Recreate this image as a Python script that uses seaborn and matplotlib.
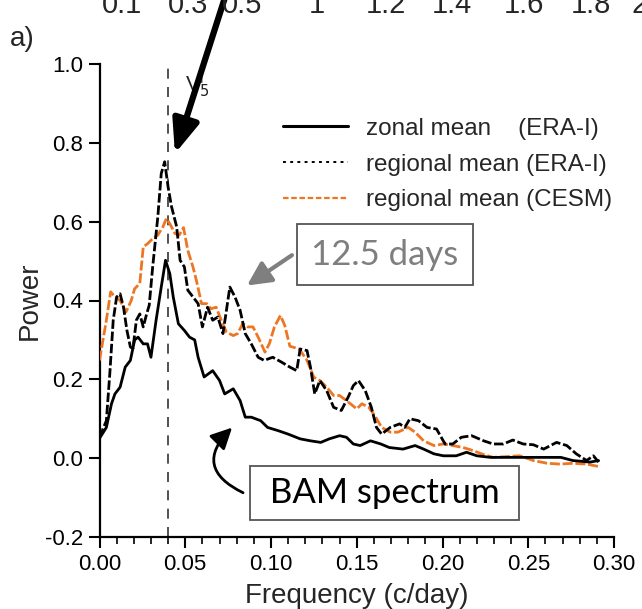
import matplotlib
matplotlib.use("Agg")
import matplotlib.pyplot as plt
import pandas as pd
import seaborn as sns
from matplotlib.lines import Line2D

# zonal mean (ERA-I), solid black
zonal_freq = [0.000, 0.004, 0.007, 0.009, 0.012, 0.015, 0.018, 0.0205, 0.0225, 0.0255,
              0.028, 0.030, 0.033, 0.036, 0.0385, 0.041, 0.043, 0.046, 0.0495, 0.0525,
              0.0555, 0.0575, 0.061, 0.066, 0.070, 0.073, 0.078, 0.082, 0.085, 0.0885,
              0.094, 0.098, 0.104, 0.110, 0.117, 0.123, 0.129, 0.134, 0.140, 0.144,
              0.148, 0.152, 0.158, 0.164, 0.169, 0.177, 0.184, 0.189, 0.195, 0.2005,
              0.208, 0.214, 0.220, 0.228, 0.237, 0.247, 0.259, 0.269, 0.276, 0.286, 0.291]
zonal_power = [0.05, 0.078, 0.138, 0.163, 0.18, 0.231, 0.248, 0.30, 0.307, 0.29,
               0.29, 0.256, 0.35, 0.434, 0.502, 0.468, 0.409, 0.341, 0.324, 0.307,
               0.30, 0.256, 0.206, 0.222, 0.197, 0.163, 0.176, 0.146, 0.104, 0.104,
               0.095, 0.078, 0.07, 0.061, 0.049, 0.044, 0.04, 0.049, 0.057, 0.053,
               0.036, 0.032, 0.044, 0.036, 0.027, 0.023, 0.032, 0.023, 0.011, 0.006,
               0.006, 0.015, 0.006, 0.002, 0.002, 0.002, 0.002, 0.002, -0.006, -0.01, -0.006]

# regional mean (ERA-I), black dashed
era_freq = [0.000, 0.004, 0.006, 0.008, 0.010, 0.012, 0.014, 0.016, 0.018, 0.0195,
            0.0215, 0.0235, 0.0255, 0.0275, 0.029, 0.031, 0.034, 0.036, 0.038, 0.040,
            0.042, 0.045, 0.047, 0.0495, 0.0515, 0.0545, 0.0575, 0.060, 0.063, 0.066,
            0.069, 0.072, 0.074, 0.076, 0.079, 0.082, 0.085, 0.0885, 0.0925, 0.096,
            0.101, 0.106, 0.111, 0.115, 0.117, 0.121, 0.123, 0.1255, 0.1285, 0.1325,
            0.1365, 0.141, 0.145, 0.148, 0.151, 0.155, 0.1585, 0.1615, 0.1645, 0.1695,
            0.175, 0.178, 0.181, 0.186, 0.191, 0.1965, 0.2015, 0.206, 0.211, 0.217,
            0.224, 0.2295, 0.2355, 0.241, 0.247, 0.253, 0.259, 0.2665, 0.2725, 0.278,
            0.284, 0.288, 0.291]
era_power = [0.053, 0.095, 0.214, 0.35, 0.409, 0.417, 0.383, 0.324, 0.282, 0.278,
             0.35, 0.366, 0.333, 0.366, 0.388, 0.485, 0.612, 0.722, 0.752, 0.688,
             0.638, 0.587, 0.502, 0.485, 0.426, 0.409, 0.392, 0.333, 0.383, 0.35,
             0.358, 0.316, 0.375, 0.434, 0.409, 0.375, 0.316, 0.29, 0.256, 0.248,
             0.256, 0.244, 0.231, 0.222, 0.277, 0.273, 0.231, 0.163, 0.197, 0.171,
             0.129, 0.121, 0.155, 0.184, 0.197, 0.171, 0.129, 0.078, 0.061, 0.078,
             0.087, 0.078, 0.10, 0.095, 0.078, 0.074, 0.036, 0.036, 0.053, 0.057,
             0.044, 0.036, 0.036, 0.046, 0.036, 0.034, 0.023, 0.04, 0.032, 0.011,
             -0.006, 0.006, -0.01]

# regional mean (CESM), orange dashed
cesm_freq = [0.000, 0.004, 0.0065, 0.009, 0.012, 0.0155, 0.0185, 0.0205, 0.0235, 0.0255,
             0.028, 0.031, 0.034, 0.037, 0.039, 0.041, 0.044, 0.0465, 0.049, 0.0515,
             0.0545, 0.0565, 0.0595, 0.0625, 0.065, 0.068, 0.071, 0.074, 0.078, 0.0805,
             0.0835, 0.0865, 0.0895, 0.0925, 0.0965, 0.099, 0.102, 0.1055, 0.108, 0.111,
             0.1165, 0.121, 0.125, 0.1285, 0.1325, 0.1365, 0.140, 0.144, 0.150, 0.153,
             0.157, 0.1605, 0.1645, 0.1695, 0.174, 0.180, 0.184, 0.189, 0.195, 0.2005,
             0.206, 0.212, 0.218, 0.224, 0.2295, 0.2375, 0.245, 0.253, 0.261, 0.2685,
             0.276, 0.284, 0.292]
cesm_power = [0.248, 0.35, 0.422, 0.409, 0.40, 0.371, 0.40, 0.43, 0.443, 0.536,
              0.544, 0.557, 0.566, 0.587, 0.608, 0.595, 0.57, 0.566, 0.585, 0.527,
              0.485, 0.451, 0.392, 0.392, 0.379, 0.383, 0.35, 0.32, 0.311, 0.316,
              0.341, 0.333, 0.333, 0.307, 0.269, 0.29, 0.333, 0.362, 0.337, 0.284,
              0.277, 0.248, 0.205, 0.197, 0.18, 0.159, 0.159, 0.146, 0.125, 0.138,
              0.129, 0.108, 0.078, 0.066, 0.066, 0.078, 0.066, 0.044, 0.032, 0.036,
              0.032, 0.027, 0.019, 0.009, 0.002, 0.004, 0.006, -0.006, -0.013, -0.015,
              -0.013, -0.015, -0.022]

legend_labels = ["zonal mean    (ERA-I)", "regional mean (ERA-I)", "regional mean (CESM)"]
top_labels = ["0.1", "0.3", "0.5", "1", "1.2", "1.4", "1.6", "1.8", "2"]
x_ticks = [0.00, 0.05, 0.10, 0.15, 0.20, 0.25, 0.30]
y_ticks = [-0.2, 0.0, 0.2, 0.4, 0.6, 0.8, 1.0]

ORANGE = "#EE7623"
GRAY = "#7F7F7F"
W, H = 642, 609


def main() -> None:
    sns.set_theme(style="ticks")
    plt.rcParams["font.family"] = ["Liberation Sans", "DejaVu Sans"]
    plt.rcParams["axes.unicode_minus"] = False

    fig = plt.figure(figsize=(W / 100, H / 100), dpi=100)
    ax = fig.add_axes([99.5 / W, 1 - 537 / H, 514.5 / W, 473 / H])

    zonal = pd.DataFrame({"freq": zonal_freq, "power": zonal_power})
    era = pd.DataFrame({"freq": era_freq, "power": era_power})
    cesm = pd.DataFrame({"freq": cesm_freq, "power": cesm_power})

    ax.axvline(0.04, color="#333333", lw=1.2, dashes=(6, 5), zorder=1)
    sns.lineplot(data=cesm, x="freq", y="power", ax=ax, color=ORANGE, lw=2.0,
                 estimator=None, zorder=3).lines[-1].set_dashes((3.6, 1.0))
    sns.lineplot(data=era, x="freq", y="power", ax=ax, color="black", lw=2.0,
                 estimator=None, zorder=4).lines[-1].set_dashes((3.4, 1.0))
    sns.lineplot(data=zonal, x="freq", y="power", ax=ax, color="black", lw=2.0,
                 estimator=None, zorder=5)

    ax.set_xlim(0, 0.30)
    ax.set_ylim(-0.2, 1.0)
    ax.set_xticks(x_ticks)
    ax.set_xticklabels([f"{t:.2f}" for t in x_ticks])
    ax.set_xticks([i / 100 for i in range(31)], minor=True)
    ax.set_yticks(y_ticks)
    ax.set_yticklabels([f"{t:.1f}" for t in y_ticks])
    ax.tick_params(axis="both", which="major", length=8, width=1.5, labelsize=16,
                   color="black", labelcolor="black", pad=4)
    ax.tick_params(axis="x", which="minor", length=5, width=1.2, color="black")
    sns.despine(ax=ax)
    for side in ("left", "bottom"):
        ax.spines[side].set_linewidth(1.6)
        ax.spines[side].set_color("black")
    ax.set_xlabel("Frequency (c/day)", fontsize=20, labelpad=6)
    ax.set_ylabel("Power", fontsize=20, labelpad=1)

    handles = [
        Line2D([], [], color="black", lw=2.2),
        Line2D([], [], color="black", lw=1.4, dashes=(1.5, 2.2)),
        Line2D([], [], color=ORANGE, lw=1.6, dashes=(2.5, 1.2)),
    ]
    ax.legend(handles, legend_labels, loc="upper left", bbox_to_anchor=(0.357, 0.886),
              frameon=False, fontsize=17.5, handlelength=2.65, handletextpad=0.75,
              labelspacing=0.56, borderpad=0, borderaxespad=0)

    # arrow to the peak and V5' label
    ax.annotate("", xy=(0.0435, 0.766), xytext=(228, H + 12), textcoords="figure pixels",
                arrowprops=dict(arrowstyle="-|>,head_length=1.0,head_width=0.4",
                                lw=4.5, color="black", mutation_scale=20),
                annotation_clip=False, zorder=6)
    ax.text(0.0497, 0.929, r"V$_5^{\mathregular{|}}$", fontsize=15, color="#222222")

    # 12.5 days
    ax.annotate("", xy=(0.086, 0.438), xytext=(0.1122, 0.515),
                arrowprops=dict(arrowstyle="-|>,head_length=0.8,head_width=0.4",
                                lw=3, color=GRAY, mutation_scale=18, shrinkA=0, shrinkB=0))
    ax.text(0.1665, 0.516, "12.5 days", fontsize=25, color=GRAY, family="Lato",
            ha="center", va="center",
            bbox=dict(boxstyle="square,pad=0.42", fc="white", ec="#555555", lw=1.3))

    # BAM spectrum
    ax.annotate("", xy=(0.0773, 0.0775), xytext=(0.0837, -0.0877),
                arrowprops=dict(arrowstyle="-|>,head_length=0.8,head_width=0.4",
                                lw=2, color="black", mutation_scale=16, shrinkA=0, shrinkB=0,
                                connectionstyle="arc3,rad=-0.7"),
                annotation_clip=False)
    ax.text(0.1662, -0.089, " BAM spectrum ", fontsize=25, color="black", family="Lato",
            ha="center", va="center",
            bbox=dict(boxstyle="square,pad=0.32", fc="white", ec="#555555", lw=1.3))

    # top axis labels, clipped at the figure edge as in the source, and panel letter
    top_x = [122, 188, 242, 317, 386, 452, 524, 591, 640]
    for lab, px in zip(top_labels, top_x):
        fig.text(px / W, 1 - 13 / H, lab, fontsize=21, ha="center", va="baseline")
    fig.text(10 / W, 1 - 46 / H, "a)", fontsize=20, ha="left", va="baseline")

    fig.savefig("out.png", dpi=100)
    plt.close(fig)


if __name__ == "__main__":
    main()
